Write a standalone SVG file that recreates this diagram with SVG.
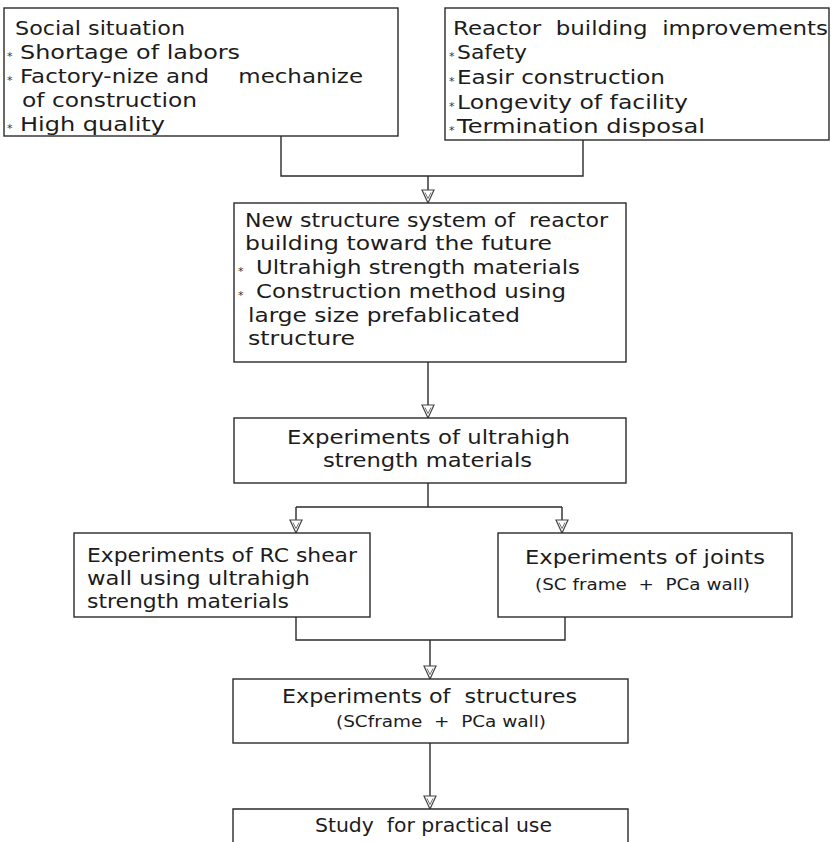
<svg xmlns="http://www.w3.org/2000/svg" width="831" height="842" viewBox="0 0 831 842">
<style>
.box{fill:#fff;stroke:#2a2a2a;stroke-width:1.4}
.t{font-family:"DejaVu Sans","Open Sans",sans-serif;font-size:20px;fill:#1c1c1c}
.s{font-family:"DejaVu Sans","Open Sans",sans-serif;font-size:16px;fill:#1c1c1c}
.b{font-family:"DejaVu Sans",sans-serif;font-size:11px;fill:#333}
.ln{fill:none;stroke:#2a2a2a;stroke-width:1.4}
</style>
<defs>
<marker id="ah" markerUnits="userSpaceOnUse" markerWidth="15" markerHeight="14" refX="14" refY="7" orient="auto" viewBox="0 0 15 14">
<path d="M1,1 L14,7 L1,13 Z" fill="#fff" stroke="#444" stroke-width="1.2"/>
<path d="M3.5,4 L9.5,7 L3.5,10" fill="none" stroke="#777" stroke-width="1"/>
</marker>
</defs>
<rect width="831" height="842" fill="#fff"/>
<g id="connectors">
<path class="ln" d="M281 136 V176 H583 V140"/>
<path class="ln" d="M428 176 V203" marker-end="url(#ah)"/>
<path class="ln" d="M428 362 V418" marker-end="url(#ah)"/>
<path class="ln" d="M428 483 V507"/>
<path class="ln" d="M296 507 H562"/>
<path class="ln" d="M296 507 V533" marker-end="url(#ah)"/>
<path class="ln" d="M562 507 V533" marker-end="url(#ah)"/>
<path class="ln" d="M296 617 V640 H565 V617"/>
<path class="ln" d="M430 640 V679" marker-end="url(#ah)"/>
<path class="ln" d="M430 743 V809" marker-end="url(#ah)"/>
</g>
<g id="social">
<rect class="box" x="4" y="8" width="394" height="128"/>
<text class="t" x="15" y="35" textLength="170" lengthAdjust="spacingAndGlyphs">Social situation</text>
<text class="b" x="7" y="60">*</text>
<text class="t" x="20" y="59" textLength="220" lengthAdjust="spacingAndGlyphs">Shortage of labors</text>
<text class="b" x="7" y="84">*</text>
<text class="t" x="20" y="83" textLength="343" lengthAdjust="spacingAndGlyphs" xml:space="preserve">Factory-nize and    mechanize</text>
<text class="t" x="22" y="107" textLength="175" lengthAdjust="spacingAndGlyphs">of construction</text>
<text class="b" x="7" y="132">*</text>
<text class="t" x="20" y="131" textLength="145" lengthAdjust="spacingAndGlyphs">High quality</text>
</g>
<g id="reactor">
<rect class="box" x="445" y="8" width="384" height="132"/>
<text class="t" x="453" y="35" textLength="375" lengthAdjust="spacingAndGlyphs" xml:space="preserve">Reactor  building  improvements</text>
<text class="b" x="449" y="60">*</text>
<text class="t" x="457" y="59" textLength="70" lengthAdjust="spacingAndGlyphs">Safety</text>
<text class="b" x="449" y="85">*</text>
<text class="t" x="457" y="84" textLength="208" lengthAdjust="spacingAndGlyphs">Easir construction</text>
<text class="b" x="449" y="110">*</text>
<text class="t" x="457" y="109" textLength="231" lengthAdjust="spacingAndGlyphs">Longevity of facility</text>
<text class="b" x="449" y="134">*</text>
<text class="t" x="457" y="133" textLength="248" lengthAdjust="spacingAndGlyphs">Termination disposal</text>
</g>
<g id="newstructure">
<rect class="box" x="234" y="203" width="392" height="159"/>
<text class="t" x="245" y="227" textLength="363" lengthAdjust="spacingAndGlyphs" xml:space="preserve">New structure system of  reactor</text>
<text class="t" x="245" y="250" textLength="307" lengthAdjust="spacingAndGlyphs">building toward the future</text>
<text class="b" x="238" y="275">*</text>
<text class="t" x="256" y="274" textLength="324" lengthAdjust="spacingAndGlyphs">Ultrahigh strength materials</text>
<text class="b" x="238" y="299">*</text>
<text class="t" x="256" y="298" textLength="310" lengthAdjust="spacingAndGlyphs">Construction method using</text>
<text class="t" x="248" y="322" textLength="272" lengthAdjust="spacingAndGlyphs">large size prefablicated</text>
<text class="t" x="248" y="345" textLength="107" lengthAdjust="spacingAndGlyphs">structure</text>
</g>
<g id="ultrahigh">
<rect class="box" x="234" y="418" width="392" height="65"/>
<text class="t" x="287" y="444" textLength="283" lengthAdjust="spacingAndGlyphs">Experiments of ultrahigh</text>
<text class="t" x="323" y="467" textLength="209" lengthAdjust="spacingAndGlyphs">strength materials</text>
</g>
<g id="rcwall">
<rect class="box" x="74" y="533" width="296" height="84"/>
<text class="t" x="87" y="562" textLength="270" lengthAdjust="spacingAndGlyphs">Experiments of RC shear</text>
<text class="t" x="87" y="585" textLength="223" lengthAdjust="spacingAndGlyphs">wall using ultrahigh</text>
<text class="t" x="87" y="608" textLength="202" lengthAdjust="spacingAndGlyphs">strength materials</text>
</g>
<g id="joints">
<rect class="box" x="498" y="533" width="294" height="84"/>
<text class="t" x="525" y="564" textLength="240" lengthAdjust="spacingAndGlyphs">Experiments of joints</text>
<text class="s" x="535" y="590" textLength="215" lengthAdjust="spacingAndGlyphs" xml:space="preserve">(SC frame  +  PCa wall)</text>
</g>
<g id="structures">
<rect class="box" x="233" y="679" width="395" height="64"/>
<text class="t" x="282" y="703" textLength="295" lengthAdjust="spacingAndGlyphs" xml:space="preserve">Experiments of  structures</text>
<text class="s" x="336" y="727" textLength="210" lengthAdjust="spacingAndGlyphs" xml:space="preserve">(SCframe  +  PCa wall)</text>
</g>
<g id="practical">
<path class="box" d="M233 845 V809 H628 V845"/>
<text class="t" x="315" y="832" textLength="237" lengthAdjust="spacingAndGlyphs" xml:space="preserve">Study  for practical use</text>
</g>
</svg>
